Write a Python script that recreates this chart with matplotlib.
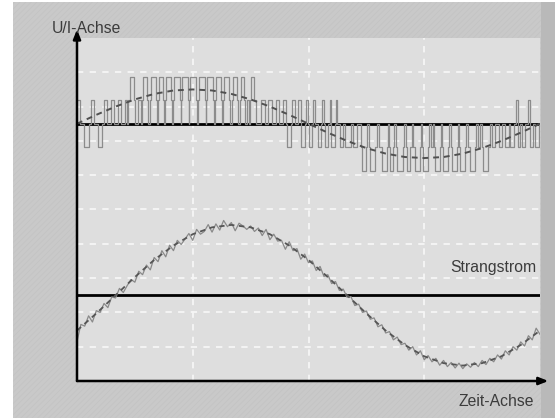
import matplotlib
matplotlib.use('Agg')
import matplotlib.pyplot as plt
import numpy as np
from matplotlib.patches import Rectangle

plt.rcParams['font.family'] = ['Liberation Sans', 'DejaVu Sans']
plt.rcParams['hatch.linewidth'] = 0.5

# --- data: one electrical period, angle in degrees -------------------------
# phase voltage (PWM): (edge angle, level) with level in steps of Ud/3
pwm_edges = [
    (0, 1), (2.5, 0), (5.5, -1), (9.5, 0), (11, 1), (13.5, 0), (16.5, -1), (19.5, 0),
    (21, 1), (23.5, 0), (26.5, 1), (29, 0), (32, 1), (34.5, 0), (37, 1), (39, 0),
    (40, 1), (41.2, 2), (44.3, 1), (45.4, 0), (47.5, 1), (49.5, 0),
    (50.2, 1), (51.3, 2), (54.4, 1), (55.4, 0),
    (56.5, 1), (57.5, 2), (61.4, 1), (62.2, 0),
    (62.9, 1), (63.8, 2), (66.9, 1), (67.6, 0),
    (68.4, 1), (69.2, 2), (73.1, 1), (73.8, 0),
    (74.6, 1), (75.4, 2), (80.1, 1), (80.6, 0),
    (81.0, 1), (81.6, 2), (86.3, 1), (86.8, 0),
    (87.3, 1), (87.9, 2), (92.5, 1), (93.2, 0),
    (94.1, 1), (94.9, 2), (99.5, 1), (100.0, 0),
    (100.5, 1), (101.1, 2), (105.7, 1), (106.5, 0),
    (107.3, 1), (108.1, 2), (112.0, 1), (112.8, 0),
    (113.5, 1), (114.3, 2), (118.2, 1), (119.2, 0),
    (120.3, 1), (121.3, 2), (124.4, 1), (125.5, 0),
    (126.5, 1), (127.5, 2), (129.8, 1), (131.0, 0),
    (132.0, 1), (133.4, 0),
    (134.3, 1), (135.3, 2), (137.6, 1), (139.0, 0),
    (143.0, 1), (146.2, 0), (148.5, 1), (151.6, 0), (154.7, 1), (157.1, 0),
    (160.2, 1), (162.5, 0), (163.5, -1), (166.5, 0),
    (167.5, 1), (169.5, 0), (172.0, 1), (174.0, -1), (177.0, 0),
    (178.0, 1), (179.6, 0), (180.6, -1), (183.0, 0),
    (183.8, 1), (185.0, 0), (187.0, -1), (190.0, 0),
    (190.8, 1), (192.0, 0), (192.6, -1), (195.5, 0),
    (196.5, 1), (197.6, -1), (200.6, 0), (201.5, 1), (202.5, 0),
    (204.4, -1), (207.0, 0), (208.2, -1), (213.0, 0), (214.5, -1), (218.0, 0),
    (220.5, -1), (221.6, -2), (224.7, -1), (225.8, 0),
    (226.8, -1), (227.8, -2), (231.7, -1), (233.0, 0),
    (234.5, -1), (237.1, -2), (241.0, -1), (241.9, 0),
    (242.6, -1), (243.4, -2), (245.7, -1), (246.8, 0),
    (247.8, -1), (248.8, -2), (253.5, -1), (254.6, 0),
    (255.6, -1), (256.6, -2), (258.9, -1), (260.3, 0),
    (261.6, -1), (262.8, -2), (266.7, -1), (267.5, 0),
    (268.2, -1), (269.0, -2), (272.9, -1), (273.9, 0),
    (275.3, -1), (276.6, 0),
    (277.4, -1), (278.3, -2), (282.2, -1), (283.2, 0),
    (283.8, -1), (284.6, -2), (288.5, -1), (289.6, 0),
    (290.6, -1), (291.6, -2), (295.4, -1), (296.4, 0),
    (297.0, -1), (297.8, -2), (301.7, -1), (302.8, 0),
    (304.4, -1), (305.6, -2), (309.4, -1), (310.6, 0),
    (312.0, -1), (313.5, 0),
    (314.6, -1), (315.7, -2), (319.5, -1), (320.8, 0),
    (322.7, -1), (325.0, 0), (328.1, -1), (330.4, 0), (332.8, -1), (335.9, 0),
    (336.7, -1), (339.8, 0), (341.3, 1), (342.8, -1), (344.4, 0), (346.0, -1),
    (348.3, 0), (350.6, 1), (352.5, -1), (354.5, 0), (356.1, -1), (359.2, 0),
    (360, 0),
]
pwm_step = 0.685          # one level step in grid divisions

# fundamental of the voltage and of the phase current, every 15 deg
fund_deg = np.arange(0, 361, 15)
u_fund = [0, 0.26, 0.5, 0.71, 0.87, 0.97, 1.0, 0.97, 0.87, 0.71, 0.5, 0.26, 0,
          -0.26, -0.5, -0.71, -0.87, -0.97, -1.0, -0.97, -0.87, -0.71, -0.5, -0.26, 0]
i_fund = [-1.03, -0.53, 0, 0.53, 1.03, 1.45, 1.78, 1.98, 2.05, 1.98, 1.78, 1.45, 1.03,
          0.53, 0, -0.53, -1.03, -1.45, -1.78, -1.98, -2.05, -1.98, -1.78, -1.45, -1.03]

# measured phase current (Strangstrom) with ripple, every 3 deg
i_deg = np.arange(0, 361, 3)
i_meas = [-1.35, -0.85, -0.90, -0.60, -0.78, -0.45, -0.50, -0.24, -0.36, -0.05,
          -0.08, 0.20, 0.08, 0.28, 0.46, 0.38, 0.70, 0.60, 0.88, 0.74,
          1.10, 0.98, 1.30, 1.12, 1.46, 1.30, 1.60, 1.48, 1.64, 1.80,
          1.60, 1.92, 1.78, 1.86, 2.06, 1.84, 2.08, 1.90, 2.18, 2.00,
          2.12, 1.88, 2.10, 2.02, 1.92, 2.02, 1.86, 1.96, 1.74, 1.92,
          1.62, 1.78, 1.58, 1.60, 1.34, 1.56, 1.30, 1.36, 1.05, 1.20,
          0.95, 1.00, 0.72, 0.84, 0.55, 0.60, 0.34, 0.40, 0.14, 0.18,
          -0.06, -0.04, -0.30, -0.26, -0.50, -0.46, -0.70, -0.66, -0.92, -0.86,
          -1.10, -1.06, -1.30, -1.22, -1.44, -1.40, -1.60, -1.50, -1.74, -1.62,
          -1.88, -1.76, -1.94, -1.84, -2.04, -1.90, -2.08, -1.96, -2.12, -1.98,
          -2.14, -2.00, -2.10, -1.96, -2.08, -1.90, -2.02, -1.84, -1.94, -1.74,
          -1.86, -1.62, -1.74, -1.50, -1.60, -1.36, -1.48, -1.18, -1.30, -0.96,
          -1.14]

u_zero = 7.5   # baseline of the voltage trace (grid divisions)
i_zero = 2.5   # baseline of the current trace

# --- figure --------------------------------------------------------------
W, H = 555, 418
fig = plt.figure(figsize=(W / 100, H / 100), dpi=100)
fig.patch.set_facecolor('white')

# grey card behind the screen (scanned, faint diagonal grain)
fig.add_artist(Rectangle((13 / W, 0), 1 - 13 / W, 1 - 2 / H, transform=fig.transFigure,
                         facecolor='#c9c9c9', edgecolor='#c3c3c3', hatch='//////',
                         lw=0, zorder=0))
fig.add_artist(Rectangle((541 / W, 0), 1 - 541 / W, 1 - 2 / H, transform=fig.transFigure,
                         facecolor='#b9b9b9', edgecolor='none', zorder=0))

ax = fig.add_axes([77 / W, 1 - 381 / H, 463 / W, 343 / H])
ax.set_facecolor('#dedede')
ax.set_xlim(0, 360)
ax.set_ylim(0, 10)
ax.set_xticks([])
ax.set_yticks([])
for s in ax.spines.values():
    s.set_visible(False)

grid_style = dict(color='#f6f6f6', lw=1.3, ls=(0, (3.5, 3.5)), zorder=1)
for x in [90, 180, 270]:
    ax.axvline(x, **grid_style)
for y in range(1, 10):
    ax.axhline(y, **grid_style)

ax.axhline(u_zero, color='black', lw=2, zorder=3)
ax.axhline(i_zero, color='black', lw=2, zorder=3)

pwm_deg, pwm_lvl = zip(*pwm_edges)
ax.step(pwm_deg, u_zero + pwm_step * np.array(pwm_lvl), where='post',
        color='#8c8c8c', lw=0.9, zorder=4)
ax.plot(fund_deg, u_zero + np.array(u_fund), color='#505050', lw=1.4,
        ls=(0, (3, 2.5)), zorder=5)

ax.plot(i_deg, i_zero + np.array(i_meas), color='#8a8a8a', lw=0.9, zorder=4)
ax.plot(fund_deg, i_zero + np.array(i_fund), color='#555555', lw=1.3,
        ls=(0, (3, 2.5)), zorder=5)

# axes with arrow heads
arrow = dict(arrowstyle='-|>,head_length=0.55,head_width=0.22', lw=1.8,
             color='black', shrinkA=0, shrinkB=0)
ax.annotate('', xy=(1.018, 0), xytext=(0, 0), xycoords='axes fraction',
            arrowprops=arrow, annotation_clip=False, zorder=6)
ax.annotate('', xy=(0, 1.025), xytext=(0, 0), xycoords='axes fraction',
            arrowprops=arrow, annotation_clip=False, zorder=6)

txt = dict(color='#3c3c3c', fontsize=11.3, va='baseline')
fig.text(52 / W, 1 - 33 / H, 'U/I-Achse', ha='left', **txt)
fig.text(536 / W, 1 - 272 / H, 'Strangstrom', ha='right', **txt)
fig.text(534 / W, 1 - 406 / H, 'Zeit-Achse', ha='right', **txt)

fig.savefig('out.png', dpi=100)
